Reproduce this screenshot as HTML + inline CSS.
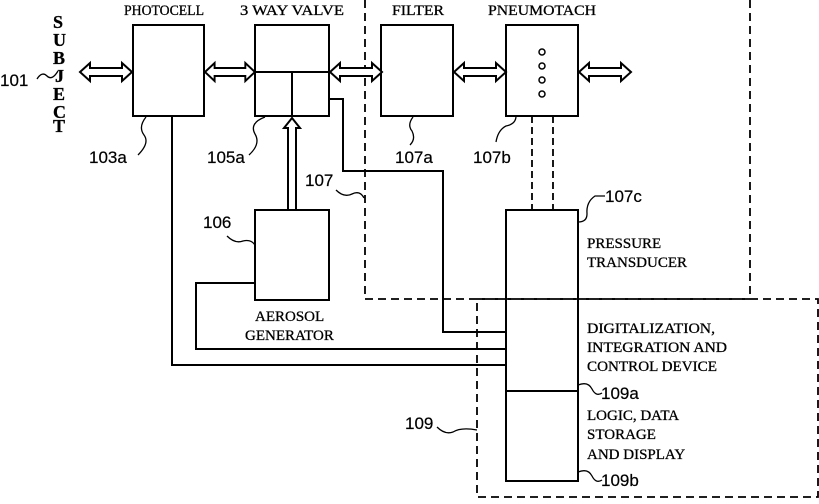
<!DOCTYPE html>
<html><head><style>
body{margin:0;background:#fff;width:819px;height:499px;overflow:hidden}
svg text{font-family:"Liberation Serif",serif;font-size:15px;fill:#000;stroke:#000;stroke-width:0.3}
svg text.s{font-family:"Liberation Sans",sans-serif;font-size:17px;stroke-width:0.2}
</style></head><body>
<svg width="819" height="499" viewBox="0 0 819 499" xmlns="http://www.w3.org/2000/svg">
<defs>
<g id="da"><path d="M0,0 l10,-9 v5 h32 v-5 l10,9 l-10,9 v-5 h-32 v5 z" fill="#fff" stroke="#000" stroke-width="2"/></g>
</defs>
<g fill="none" stroke="#000" stroke-width="2">
<path d="M365,0 V299 H750 V0" stroke-dasharray="8,5" stroke-width="1.8"/>
<rect x="477" y="299" width="341" height="198" stroke-dasharray="8,5" stroke-width="1.8"/>
<rect x="133" y="25" width="71" height="91"/>
<rect x="255" y="25" width="74" height="91"/>
<path d="M255,72 H329 M292,72 V116"/>
<rect x="381" y="25" width="72" height="91"/>
<rect x="506" y="25" width="72" height="91"/>
<rect x="255" y="210" width="74" height="90"/>
<rect x="506" y="210" width="72" height="271"/>
<path d="M506,391 H578"/>
<path d="M532,116 V210 M553,116 V210" stroke-dasharray="7,4" stroke-width="1.8"/>
<path d="M329,99 H343 V171 H443 V332 H506"/>
<path d="M255,283 H196 V349 H506"/>
<path d="M172,116 V365 H506"/>
<path d="M37,79 q5,-8 10,-3 q5,5 11,-5" stroke-width="1.3"/>
<path d="M146,117 q-8,10 -2,18 q6,8 -6,20" stroke-width="1.3"/>
<path d="M265,117 q-16,6 -10,17 q6,10 -6,21" stroke-width="1.3"/>
<path d="M336,190 q8,8 16,4 q8,-4 12,4" stroke-width="1.3"/>
<path d="M227,236 q8,8 16,5 q8,-2 12,4" stroke-width="1.3"/>
<path d="M413,117 q-6,8 -1,14 q4,8 -2,14" stroke-width="1.3"/>
<path d="M516,116 q0,8 -10,10 q-8,4 -10,16" stroke-width="1.3"/>
<path d="M578,222 q9,0 9,-8 q-1,-12 8,-18 h10" stroke-width="1.3"/>
<path d="M578,385 q10,-4 14,4 q4,8 10,4" stroke-width="1.3"/>
<path d="M578,472 q10,-4 14,4 q4,8 10,4" stroke-width="1.3"/>
<path d="M437,427 q8,8 16,5 q8,-5 24,-2" stroke-width="1.3"/>
</g>
<use href="#da" transform="translate(80,72)"/>
<use href="#da" transform="translate(205,72) scale(0.96,1)"/>
<use href="#da" transform="translate(330,72)"/>
<use href="#da" transform="translate(454,72)"/>
<use href="#da" transform="translate(579,72)"/>
<path d="M292,118 l-8,10 h4 V210 h8 V128 h4 z" fill="#fff" stroke="#000" stroke-width="2"/>
<g fill="none" stroke="#000" stroke-width="1.5">
<circle cx="542" cy="52" r="3"/><circle cx="542" cy="66" r="3"/><circle cx="542" cy="80" r="3"/><circle cx="542" cy="94" r="3"/>
</g>
<text x="124" y="15" textLength="80" lengthAdjust="spacingAndGlyphs">PHOTOCELL</text>
<text x="240" y="15" textLength="104" lengthAdjust="spacingAndGlyphs">3 WAY VALVE</text>
<text x="392" y="15" textLength="52" lengthAdjust="spacingAndGlyphs">FILTER</text>
<text x="488" y="15" textLength="108" lengthAdjust="spacingAndGlyphs">PNEUMOTACH</text>
<g font-weight="bold" style="font-size:18px">
<text x="53" y="28" style="font-size:18px">S</text>
<text x="53" y="46" style="font-size:18px">U</text>
<text x="53" y="64" style="font-size:18px">B</text>
<text x="55" y="82" style="font-size:18px">J</text>
<text x="53" y="100" style="font-size:18px">E</text>
<text x="53" y="118" style="font-size:18px">C</text>
<text x="53" y="132" style="font-size:18px">T</text>
</g>
<text class="s" x="0" y="86">101</text>
<text class="s" x="89" y="163">103a</text>
<text class="s" x="207" y="163">105a</text>
<text class="s" x="305" y="186">107</text>
<text class="s" x="203" y="228">106</text>
<text class="s" x="395" y="163">107a</text>
<text class="s" x="473" y="163">107b</text>
<text class="s" x="605" y="202">107c</text>
<text class="s" x="601" y="399">109a</text>
<text class="s" x="601" y="486">109b</text>
<text class="s" x="405" y="429">109</text>
<text x="587" y="248">PRESSURE</text>
<text x="587" y="267">TRANSDUCER</text>
<text x="255" y="321">AEROSOL</text>
<text x="245" y="340">GENERATOR</text>
<text x="587" y="333" textLength="128" lengthAdjust="spacingAndGlyphs">DIGITALIZATION,</text>
<text x="587" y="352" textLength="140" lengthAdjust="spacingAndGlyphs">INTEGRATION AND</text>
<text x="587" y="371" textLength="130" lengthAdjust="spacingAndGlyphs">CONTROL DEVICE</text>
<text x="587" y="420">LOGIC, DATA</text>
<text x="587" y="439">STORAGE</text>
<text x="587" y="459">AND DISPLAY</text>
</svg>
</body></html>
